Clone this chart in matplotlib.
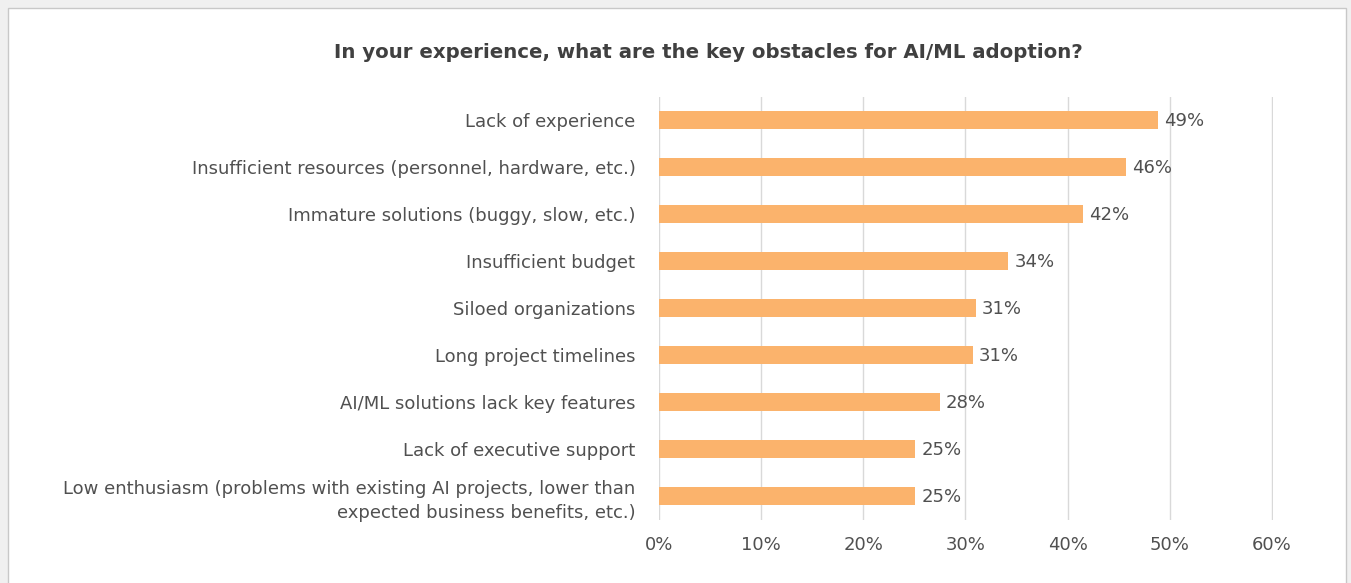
import matplotlib.pyplot as plt
from matplotlib.patches import Rectangle

# Survey data
categories = [
    'Lack of experience',
    'Insufficient resources (personnel, hardware, etc.)',
    'Immature solutions (buggy, slow, etc.)',
    'Insufficient budget',
    'Siloed organizations',
    'Long project timelines',
    'AI/ML solutions lack key features',
    'Lack of executive support',
    'Low enthusiasm (problems with existing AI projects, lower than\nexpected business benefits, etc.)',
]
values = [48.8, 45.7, 41.5, 34.2, 31.0, 30.7, 27.5, 25.1, 25.1]
value_labels = ['49%', '46%', '42%', '34%', '31%', '31%', '28%', '25%', '25%']
x_ticks = [0, 10, 20, 30, 40, 50, 60]

plt.rcParams['font.family'] = ['DejaVu Sans']
txt_color = '#505050'

fig = plt.figure(figsize=(13.51, 5.83), dpi=100)
fig.patch.set_facecolor('#f0f0f0')
fig.patches.append(Rectangle((8 / 1351, -0.01), 1338 / 1351, 1 - 8 / 583 + 0.01,
                             transform=fig.transFigure, facecolor='white',
                             edgecolor='#c8c8c8', linewidth=1, zorder=-5))

ax = fig.add_axes([659 / 1351, 1 - 519.5 / 583, 614 / 1351, 423 / 583])
ax.set_facecolor('none')
y = list(range(len(categories)))
ax.barh(y, values, height=0.37, color='#FBB36C', zorder=3)
for yi, v, lab in zip(y, values, value_labels):
    ax.text(v + 0.6, yi + 0.03, lab, va='center', ha='left', fontsize=13, color=txt_color)

ax.set_xlim(0, 60.1)
ax.set_ylim(len(categories) - 0.5, -0.5)
ax.set_xticks(x_ticks)
ax.set_xticklabels([f'{t}%' for t in x_ticks])
ax.set_yticks(y)
ax.set_yticklabels(categories, fontsize=13, color=txt_color, linespacing=1.45)
ax.tick_params(axis='y', length=0, pad=17)
ax.tick_params(axis='x', length=0, pad=12, labelsize=13, labelcolor=txt_color)
for lab in ax.get_yticklabels():
    lab.set_horizontalalignment('right')
    lab.set_multialignment('right')
ax.grid(axis='x', color='#d9d9d9', linewidth=1, zorder=0)
for s in ax.spines.values():
    s.set_visible(False)

fig.text(708 / 1351, 1 - 53 / 583,
         'In your experience, what are the key obstacles for AI/ML adoption?',
         ha='center', va='center', fontsize=14.2, fontweight='bold', color='#404040')

fig.savefig('out.png', dpi=100, facecolor=fig.get_facecolor())
